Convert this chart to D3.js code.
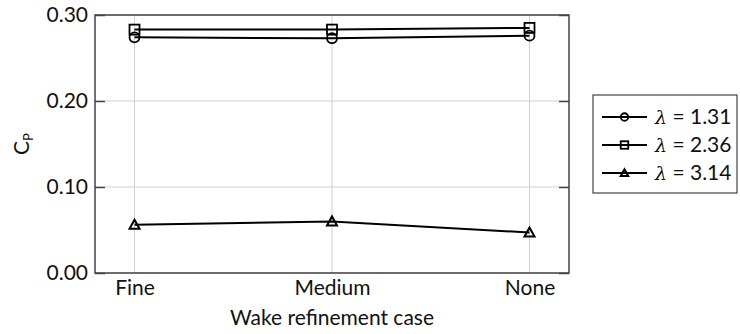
<!DOCTYPE html>
<html lang="en">
<head>
    <meta charset="UTF-8">
    <script src="https://d3js.org/d3.v7.min.js"></script>
    <title>Cp vs wake refinement</title>
    <style>
        body { margin: 0; background: #fff; }
        svg { font-family: Lato, sans-serif; }
    </style>
</head>
<body>
    <svg id="chart" width="740" height="334"></svg>
    <script>
        // data
        const cases = ["Fine", "Medium", "None"];
        const yTicks = [0.00, 0.10, 0.20, 0.30];
        const seriesLabels = ["1.31", "2.36", "3.14"];
        const seriesMarkers = ["circle", "square", "triangle"];
        const cp131 = [0.274, 0.273, 0.276];
        const cp236 = [0.283, 0.283, 0.285];
        const cp314 = [0.056, 0.060, 0.047];
        const seriesValues = [cp131, cp236, cp314];

        const svg = d3.select("#chart");
        const plotL = 95, plotR = 569, plotT = 15, plotB = 273;
        const axisColor = "#444";
        const fs = 21;

        const x = d3.scalePoint().domain(cases).range([plotL, plotR]).padding(0.2);
        const y = d3.scaleLinear().domain([0, 0.3]).range([plotB, plotT]);

        // grid
        svg.append("g").selectAll("line").data(cases).join("line")
            .attr("x1", d => x(d)).attr("x2", d => x(d))
            .attr("y1", plotT).attr("y2", plotB)
            .attr("stroke", "#d0d0d0").attr("stroke-width", 1);
        svg.append("g").selectAll("line").data(yTicks).join("line")
            .attr("x1", plotL).attr("x2", plotR)
            .attr("y1", d => y(d)).attr("y2", d => y(d))
            .attr("stroke", "#d0d0d0").attr("stroke-width", 1);

        // y axis left (ticks inside) and right
        const yAxis = svg.append("g").attr("transform", `translate(${plotL},0)`)
            .call(d3.axisLeft(y).tickValues(yTicks).tickFormat(d3.format(".2f")).tickSizeInner(-10).tickSizeOuter(0).tickPadding(7));
        yAxis.select(".domain").remove();
        yAxis.selectAll("line").attr("stroke", axisColor).attr("stroke-width", 1.5);
        yAxis.selectAll("text").attr("font-size", fs).attr("fill", "#111").attr("font-family", "Lato");

        const yAxisR = svg.append("g").attr("transform", `translate(${plotR},0)`)
            .call(d3.axisRight(y).tickValues(yTicks).tickFormat("").tickSizeInner(-10).tickSizeOuter(0));
        yAxisR.select(".domain").remove();
        yAxisR.selectAll("line").attr("stroke", axisColor).attr("stroke-width", 1.5);

        // x axis labels
        const xAxis = svg.append("g").attr("transform", `translate(0,${plotB})`)
            .call(d3.axisBottom(x).tickSize(0).tickPadding(7));
        xAxis.select(".domain").remove();
        xAxis.selectAll("text").attr("font-size", fs).attr("fill", "#111").attr("font-family", "Lato");

        // frame
        svg.append("rect")
            .attr("x", plotL).attr("y", plotT)
            .attr("width", plotR - plotL).attr("height", plotB - plotT)
            .attr("fill", "none").attr("stroke", axisColor).attr("stroke-width", 1.5);

        // axis titles
        svg.append("text")
            .attr("x", (plotL + plotR) / 2).attr("y", 325)
            .attr("text-anchor", "middle").attr("font-size", fs).attr("fill", "#111")
            .text("Wake refinement case");
        const yl = svg.append("text")
            .attr("transform", `translate(29,${(plotT + plotB) / 2}) rotate(-90)`)
            .attr("text-anchor", "middle").attr("font-size", fs).attr("fill", "#111");
        yl.append("tspan").text("C");
        yl.append("tspan").attr("font-size", 13).attr("dy", 4).text("P");

        // markers
        function drawMarker(g, type, cx, cy, k) {
            if (type === "circle") {
                g.append("circle").attr("cx", cx).attr("cy", cy).attr("r", 5 * k)
                    .attr("fill", "none").attr("stroke", "#000").attr("stroke-width", 1.8);
            } else if (type === "square") {
                g.append("rect").attr("x", cx - 5 * k).attr("y", cy - 5 * k).attr("width", 10 * k).attr("height", 10 * k)
                    .attr("fill", "none").attr("stroke", "#000").attr("stroke-width", 1.8);
            } else {
                g.append("path").attr("d", `M${cx},${cy - 5 * k}L${cx + 5 * k},${cy + 4 * k}L${cx - 5 * k},${cy + 4 * k}Z`)
                    .attr("fill", "none").attr("stroke", "#000").attr("stroke-width", 2);
            }
        }

        const line = d3.line().x((d, i) => x(cases[i])).y(d => y(d));
        seriesValues.forEach((vals, s) => {
            const g = svg.append("g");
            g.append("path").attr("d", line(vals))
                .attr("fill", "none").attr("stroke", "#000").attr("stroke-width", 2);
            vals.forEach((v, i) => drawMarker(g, seriesMarkers[s], x(cases[i]), y(v), 1));
        });

        // legend
        const lg = svg.append("g");
        lg.append("rect").attr("x", 593).attr("y", 95).attr("width", 144).attr("height", 98)
            .attr("fill", "#fff").attr("stroke", axisColor).attr("stroke-width", 1.2);
        seriesLabels.forEach((lab, s) => {
            const ly = 117 + s * 28;
            lg.append("line").attr("x1", 602).attr("x2", 647).attr("y1", ly).attr("y2", ly)
                .attr("stroke", "#000").attr("stroke-width", 2);
            drawMarker(lg, seriesMarkers[s], 624.5, ly, 0.75);
            const t = lg.append("text").attr("x", 655).attr("y", ly + 7)
                .attr("font-size", fs).attr("fill", "#111");
            t.append("tspan").attr("font-family", "DejaVu Serif").attr("font-style", "italic").attr("font-size", 19).text("λ");
            t.append("tspan").text(" = " + lab);
        });
    </script>
</body>
</html>
